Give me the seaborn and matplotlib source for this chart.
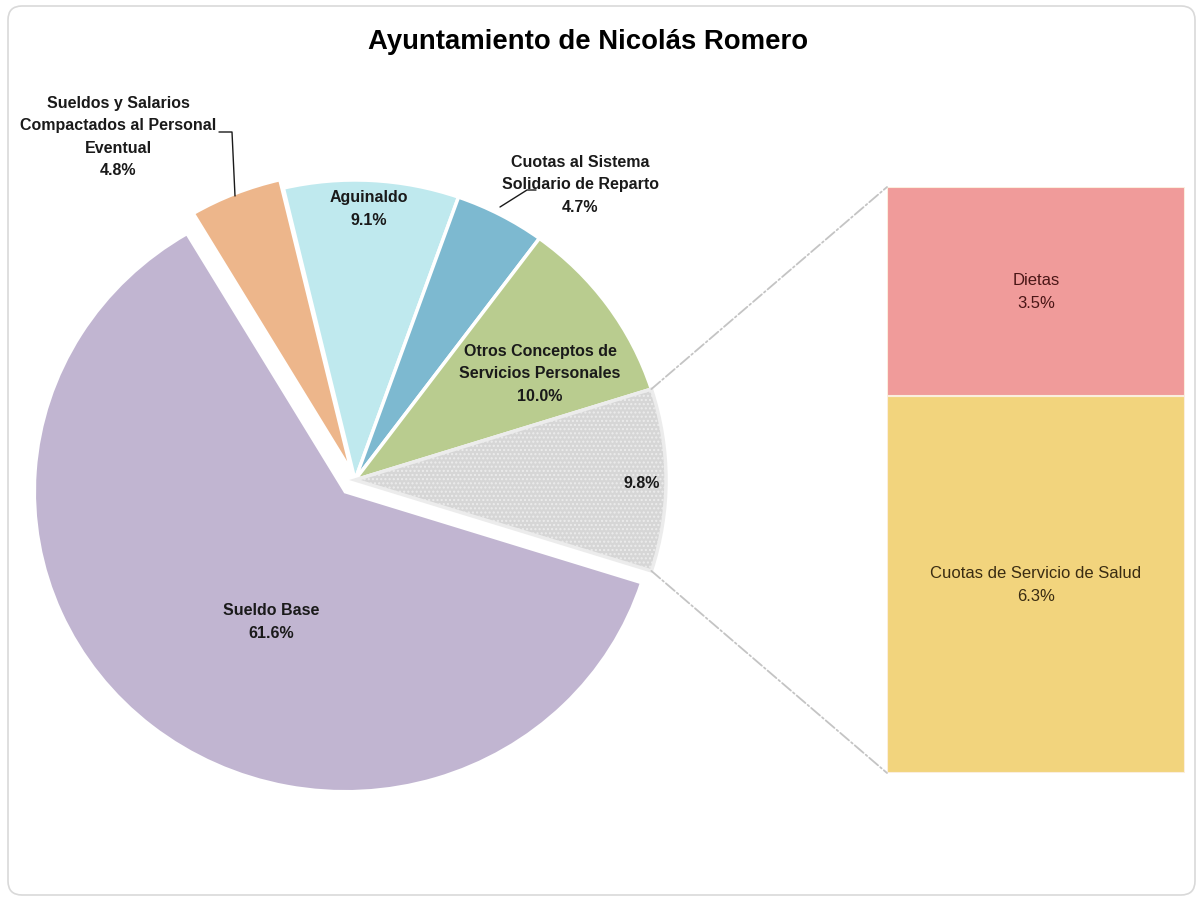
import numpy as np
import pandas as pd
import matplotlib.pyplot as plt
import seaborn as sns
from matplotlib.patches import ConnectionPatch, FancyBboxPatch

# ── Data ───────────────────────────────────────────────────────────────────────
titulo = "Ayuntamiento de Nicolás Romero"

pie_conceptos = ["Sueldo Base",
                 "Sueldos y Salarios Compactados al Personal Eventual",
                 "Aguinaldo",
                 "Cuotas al Sistema Solidario de Reparto",
                 "Otros Conceptos de Servicios Personales",
                 "Otros"]
pie_valores = [61.6, 4.8, 9.1, 4.7, 10.0, 9.8]
pie_etiquetas = ["Sueldo Base",
                 "Sueldos y Salarios\nCompactados al Personal\nEventual",
                 "Aguinaldo",
                 "Cuotas al Sistema\nSolidario de Reparto",
                 "Otros Conceptos de\nServicios Personales",
                 ""]

bar_conceptos = ["Cuotas de Servicio de Salud", "Dietas"]
bar_valores   = [6.3, 3.5]

# ── Style ──────────────────────────────────────────────────────────────────────
sns.set_theme(style="white")
plt.rcParams['font.family'] = ['Liberation Sans', 'DejaVu Sans']

pie_colores = ['#c1b5d1', '#edb68b', '#bfe9ee', '#7db9d0', '#b9cc8f', '#d6d6d6']
pie_explode = [0.05, 0.03, 0, 0, 0, 0]
bar_colores = ['#f2d47d', '#f09b9a']
bar_texto   = ['#3a2c12', '#4a1616']

# pixel layout of the figure (1203 x 901)
W, H = 1203, 901
cx, cy, rx, ry = 355, 480, 311, 300          # pie centre and radii in px
lim = 1.3

fig = plt.figure(figsize=(W / 100, H / 100), dpi=100)

# ── Pie ────────────────────────────────────────────────────────────────────────
ax_pie = fig.add_axes([(cx - lim * rx) / W, (H - cy - lim * ry) / H,
                       2 * lim * rx / W, 2 * lim * ry / H])
start = -pie_valores[-1] / sum(pie_valores) * 360 / 2
wedges, _ = ax_pie.pie(pie_valores, colors=pie_colores, explode=pie_explode,
                       startangle=start, counterclock=False,
                       wedgeprops=dict(edgecolor='white', linewidth=2.5))
wedges[-1].set_hatch('....')
wedges[-1].set_edgecolor('#ececec')
ax_pie.set_xlim(-lim, lim)
ax_pie.set_ylim(-lim, lim)
ax_pie.set_aspect('auto')
ax_pie.axis('off')

# ── Bar of the "Otros" slice ──────────────────────────────────────────────────
bx0, bx1, by0, by1 = 887, 1185, 187, 773
ax_bar = fig.add_axes([bx0 / W, (H - by1) / H, (bx1 - bx0) / W, (by1 - by0) / H])
bar_df = pd.DataFrame({'concepto': bar_conceptos, 'valor': bar_valores})
bar_df['base'] = np.cumsum([0] + bar_valores[:-1])
for i, row in bar_df.iterrows():
    sns.barplot(x=['Otros'], y=[row['valor']], bottom=row['base'], width=1,
                color=bar_colores[i], saturation=1, ax=ax_bar,
                edgecolor='#fbeede', linewidth=1.5)
    ax_bar.text(0, row['base'] + row['valor'] / 2,
                f"{row['concepto']}\n{row['valor']:.1f}%",
                ha='center', va='center', fontsize=12, color=bar_texto[i],
                linespacing=1.65)
total_bar = sum(bar_valores)
ax_bar.set_xlim(-0.5, 0.5)
ax_bar.set_ylim(0, total_bar)
ax_bar.axis('off')

# dash-dot connectors from the gray slice to the bar
gris = wedges[-1]
angs = sorted([gris.theta1, gris.theta2], key=lambda t: np.sin(np.radians(t)))
for ang, yb in zip(angs, [0, total_bar]):
    t = np.radians(ang)
    con = ConnectionPatch(xyA=(np.cos(t), np.sin(t)), coordsA=ax_pie.transData,
                          xyB=(-0.5, yb), coordsB=ax_bar.transData,
                          color='#c4c4c4', linestyle='-.', linewidth=1.3)
    fig.add_artist(con)

# ── Overlay: title, frame, labels ─────────────────────────────────────────────
ax_ov = fig.add_axes([0, 0, 1, 1], zorder=10)
ax_ov.set_xlim(0, W)
ax_ov.set_ylim(H, 0)
ax_ov.axis('off')
ax_ov.patch.set_alpha(0)

ax_ov.add_patch(FancyBboxPatch((8, 6), W - 16, H - 12,
                               boxstyle='round,pad=0,rounding_size=14',
                               fill=False, edgecolor='#d9d9d9', linewidth=1.2))
ax_ov.text(588, 42, titulo, ha='center', va='center', fontsize=19.8,
           fontweight='bold', color='black')

# label anchor positions in px
label_pos = [(271, 622), (118, 137), (369, 209), (580, 185), (540, 374), (642, 483)]
for lab, val, (px, py) in zip(pie_etiquetas, pie_valores, label_pos):
    txt = f"{lab}\n{val:.1f}%" if lab else f"{val:.1f}%"
    ax_ov.text(px, py, txt, ha='center', va='center', fontsize=11.5,
               fontweight='bold', color='#1a1a1a', linespacing=1.6)

# leader lines for the outside labels
ax_ov.plot([219, 232, 235], [132, 132, 196], color='#1a1a1a', linewidth=1)
ax_ov.plot([536, 527, 500], [190, 190, 207], color='#1a1a1a', linewidth=1)

fig.savefig('out.png', dpi=100, facecolor='white')
